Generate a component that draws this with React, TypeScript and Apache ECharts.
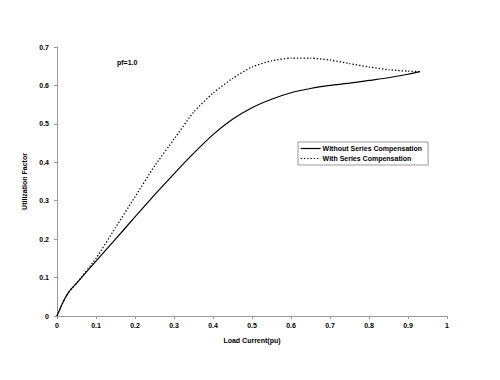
import React, { useEffect, useRef } from "react";
import * as echarts from "echarts";

const loadCurrent = [0, 0.01, 0.02, 0.03, 0.04, 0.05, 0.1, 0.15, 0.2, 0.25, 0.3, 0.35, 0.4, 0.45, 0.5, 0.55, 0.6, 0.65, 0.7, 0.75, 0.8, 0.85, 0.9, 0.93];
const withoutComp = [0, 0.024, 0.045, 0.062, 0.074, 0.085, 0.143, 0.2, 0.258, 0.315, 0.37, 0.423, 0.472, 0.512, 0.542, 0.564, 0.581, 0.592, 0.6, 0.606, 0.613, 0.62, 0.629, 0.636];
const withComp = [0, 0.024, 0.045, 0.062, 0.074, 0.085, 0.15, 0.23, 0.31, 0.39, 0.46, 0.53, 0.58, 0.618, 0.648, 0.664, 0.671, 0.671, 0.666, 0.657, 0.648, 0.641, 0.637, 0.636];
const seriesNames = ["Without Series Compensation", "With Series Compensation"];
const annotation = "pf=1.0";

const FONT = "Arial, 'Liberation Sans', sans-serif";

export default function App() {
  const ref = useRef<HTMLDivElement>(null);
  useEffect(() => {
    if (!ref.current) return;
    const chart = echarts.init(ref.current, null, { renderer: "svg" });
    const axisLabel = { color: "#000", fontSize: 7, fontWeight: "bold" as const, fontFamily: FONT };
    chart.setOption({
      animation: false,
      backgroundColor: "#fff",
      grid: { left: 57, right: 53, top: 47, bottom: 64 },
      xAxis: {
        type: "value",
        min: 0,
        max: 1,
        interval: 0.1,
        name: "Load Current(pu)",
        nameLocation: "middle",
        nameGap: 21,
        nameTextStyle: { color: "#000", fontSize: 7, fontWeight: "bold", fontFamily: FONT },
        axisLine: { lineStyle: { color: "#999", width: 1 } },
        axisTick: { show: true, length: 3, lineStyle: { color: "#999" } },
        axisLabel: { ...axisLabel, margin: 6 },
        splitLine: { show: false },
      },
      yAxis: {
        type: "value",
        min: 0,
        max: 0.7,
        interval: 0.1,
        name: "Utilization Factor",
        nameLocation: "middle",
        nameGap: 24,
        nameTextStyle: { color: "#000", fontSize: 7, fontWeight: "bold", fontFamily: FONT },
        axisLine: { show: true, lineStyle: { color: "#999", width: 1 } },
        axisTick: { show: true, length: 3, lineStyle: { color: "#999" } },
        axisLabel: { ...axisLabel, margin: 8 },
        splitLine: { show: false },
      },
      legend: {
        orient: "vertical",
        left: 298,
        top: 142,
        padding: [3, 6, 3, 2],
        itemGap: 3,
        itemWidth: 20,
        itemHeight: 6,
        borderColor: "#999",
        borderWidth: 1,
        itemStyle: { opacity: 0 },
        lineStyle: { width: 1.2 },
        textStyle: { color: "#000", fontSize: 7, fontWeight: "bold", fontFamily: FONT, padding: [0, 0, 0, -3] },
        data: seriesNames,
      },
      graphic: [
        {
          type: "text",
          left: 117,
          top: 59,
          style: { text: annotation, fill: "#000", font: `bold 7px ${FONT}` },
        },
      ],
      series: [
        {
          name: seriesNames[0],
          type: "line",
          data: loadCurrent.map((x, i) => [x, withoutComp[i]]),
          smooth: 0.2,
          showSymbol: false,
          symbol: "none",
          lineStyle: { color: "#000", width: 1.2, type: "solid" },
          itemStyle: { color: "#000" },
        },
        {
          name: seriesNames[1],
          type: "line",
          data: loadCurrent.map((x, i) => [x, withComp[i]]),
          smooth: 0.2,
          showSymbol: false,
          symbol: "none",
          lineStyle: { color: "#000", width: 1.3, type: [1.3, 2] },
          itemStyle: { color: "#000" },
        },
      ],
    });
    return () => chart.dispose();
  }, []);
  return <div ref={ref} style={{ width: 500, height: 380, position: "absolute", left: 0, top: 0 }} />;
}
